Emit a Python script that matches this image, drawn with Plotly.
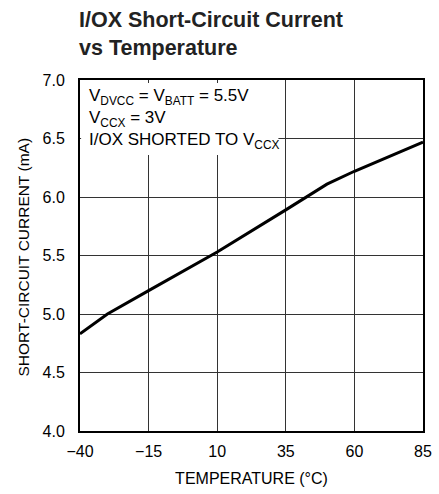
import plotly.graph_objects as go

temps = [-40, -30, -15, 10, 35, 50, 60, 85]
current = [4.83, 5.0, 5.2, 5.53, 5.89, 6.11, 6.22, 6.47]

x_ticks = [-40, -15, 10, 35, 60, 85]
x_tick_labels = ["\u221240", "\u221215", "10", "35", "60", "85"]
y_ticks = [4.0, 4.5, 5.0, 5.5, 6.0, 6.5, 7.0]
y_tick_labels = ["4.0", "4.5", "5.0", "5.5", "6.0", "6.5", "7.0"]

FONT = "Liberation Sans, Arial, sans-serif"
PLOT_H = 494 - 80 - 63

fig = go.Figure()
fig.add_trace(go.Scatter(x=temps, y=current, mode="lines",
                         line=dict(color="black", width=3), showlegend=False))

fig.update_layout(
    width=439, height=494,
    margin=dict(l=80, r=7, t=80, b=63),
    paper_bgcolor="white", plot_bgcolor="white",
    font=dict(family=FONT, color="black", size=15),
)
fig.update_xaxes(range=[-40, 85], tickvals=x_ticks, ticktext=x_tick_labels,
                 showgrid=True, gridcolor="#333", gridwidth=1,
                 showline=True, linecolor="black", linewidth=2, mirror=True,
                 ticks="", zeroline=False, ticklabelstandoff=5,
                 title=dict(text="TEMPERATURE (\u00b0C)", font=dict(size=16), standoff=14),
                 tickfont=dict(size=16))
fig.update_yaxes(range=[4.0, 7.0], tickvals=y_ticks, ticktext=y_tick_labels,
                 showgrid=True, gridcolor="#333", gridwidth=1,
                 showline=True, linecolor="black", linewidth=2, mirror=True,
                 ticks="", zeroline=False, ticklabelstandoff=10,
                 tickfont=dict(size=16))

fig.add_shape(type="rect", xref="x", yref="y", x0=-39.6, x1=32.3, y0=6.36, y1=6.975,
              fillcolor="white", line=dict(width=0), layer="above")

# title
fig.add_annotation(xref="paper", yref="paper", x=-0.01, y=(431 - 6) / PLOT_H,
                   xanchor="left", yanchor="top", align="left", showarrow=False,
                   text="<b>I/OX Short-Circuit Current<br>vs Temperature</b>",
                   font=dict(size=21.5, family=FONT, color="#222"))

# y-axis title
fig.add_annotation(xref="paper", yref="paper", x=(22 - 80) / 352, y=(431 - 257) / PLOT_H,
                   xanchor="center", yanchor="middle", showarrow=False, textangle=-90,
                   text="SHORT-CIRCUIT CURRENT (mA)",
                   font=dict(size=15.5, family=FONT, color="black"))

fig.add_annotation(xref="paper", yref="paper", x=0.02, y=0.99, xanchor="left", yanchor="top",
                   align="left", showarrow=False,
                   text="V<sub>DVCC</sub> = V<sub>BATT</sub> = 5.5V<br>V<sub>CCX</sub> = 3V<br>I/OX SHORTED TO V<sub>CCX</sub>",
                   font=dict(size=17, family=FONT, color="black"))

fig.write_html("out.html", config={"displayModeBar": False},
               post_script="document.body.style.margin='0';")
